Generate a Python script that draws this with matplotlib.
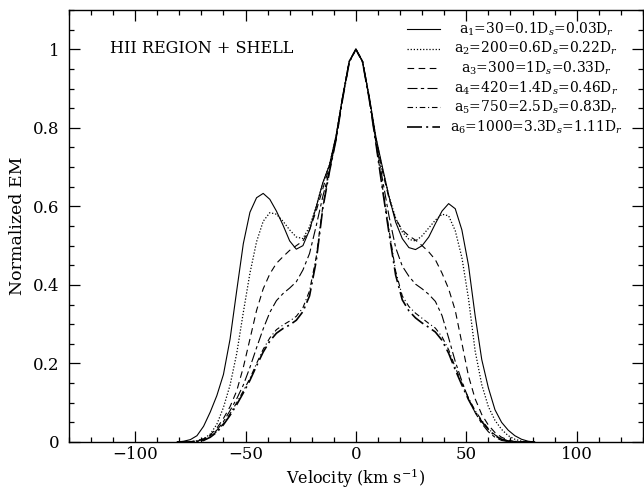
import matplotlib
matplotlib.use("Agg")
import matplotlib.pyplot as plt
from matplotlib.ticker import MultipleLocator

plt.rcParams.update({
    "font.family": "DejaVu Serif",
    "mathtext.fontset": "dejavuserif",
    "font.size": 12,
})

# velocity grid (km/s)
velocity = [-81, -78, -75, -72, -69, -66, -63, -60, -57, -54, -51, -48, -45, -42,
            -39, -36, -33, -30, -27, -24, -21, -18, -15, -12, -9, -6, -3, 0,
            3, 6, 9, 12, 15, 18, 21, 24, 27, 30, 33, 36, 39, 42,
            45, 48, 51, 54, 57, 60, 63, 66, 69, 72, 75, 78, 81]

em_a1 = [0.0, 0.002, 0.006, 0.016, 0.040, 0.076, 0.118, 0.172, 0.262, 0.385, 0.505, 0.585, 0.622, 0.633,
         0.618, 0.588, 0.552, 0.512, 0.491, 0.500, 0.540, 0.598, 0.660, 0.705, 0.780, 0.880, 0.970, 1.0,
         0.970, 0.880, 0.778, 0.700, 0.625, 0.560, 0.518, 0.495, 0.490, 0.500, 0.522, 0.556, 0.588, 0.607,
         0.594, 0.540, 0.450, 0.322, 0.210, 0.138, 0.082, 0.050, 0.030, 0.016, 0.007, 0.002, 0.0]

em_a2 = [0.0, 0.0, 0.001, 0.003, 0.008, 0.020, 0.045, 0.088, 0.145, 0.225, 0.330, 0.430, 0.510, 0.562,
         0.584, 0.580, 0.562, 0.540, 0.522, 0.518, 0.548, 0.600, 0.660, 0.705, 0.778, 0.880, 0.970, 1.0,
         0.970, 0.880, 0.775, 0.695, 0.625, 0.570, 0.535, 0.516, 0.512, 0.525, 0.545, 0.565, 0.580, 0.576,
         0.538, 0.470, 0.365, 0.232, 0.146, 0.090, 0.055, 0.032, 0.016, 0.007, 0.002, 0.0, 0.0]

em_a3 = [0.0, 0.0, 0.001, 0.003, 0.008, 0.018, 0.035, 0.060, 0.090, 0.130, 0.190, 0.262, 0.335, 0.390,
         0.428, 0.455, 0.472, 0.488, 0.500, 0.512, 0.540, 0.588, 0.645, 0.700, 0.776, 0.878, 0.968, 1.0,
         0.968, 0.878, 0.772, 0.690, 0.620, 0.568, 0.540, 0.525, 0.514, 0.500, 0.484, 0.464, 0.430, 0.390,
         0.335, 0.252, 0.168, 0.110, 0.070, 0.043, 0.024, 0.012, 0.005, 0.001, 0.0, 0.0, 0.0]

em_a4 = [0.0, 0.0, 0.0, 0.002, 0.007, 0.016, 0.030, 0.052, 0.080, 0.110, 0.145, 0.190, 0.240, 0.288,
         0.330, 0.360, 0.378, 0.392, 0.408, 0.438, 0.480, 0.550, 0.625, 0.690, 0.772, 0.876, 0.968, 1.0,
         0.968, 0.876, 0.768, 0.670, 0.575, 0.495, 0.448, 0.422, 0.402, 0.390, 0.376, 0.358, 0.322, 0.265,
         0.205, 0.155, 0.110, 0.075, 0.047, 0.026, 0.012, 0.004, 0.001, 0.0, 0.0, 0.0, 0.0]

em_a5 = [0.0, 0.0, 0.0, 0.001, 0.005, 0.013, 0.027, 0.047, 0.072, 0.100, 0.130, 0.162, 0.200, 0.236,
         0.265, 0.286, 0.298, 0.308, 0.320, 0.342, 0.385, 0.470, 0.600, 0.690, 0.770, 0.875, 0.968, 1.0,
         0.968, 0.875, 0.765, 0.650, 0.540, 0.435, 0.372, 0.345, 0.328, 0.315, 0.302, 0.290, 0.268, 0.235,
         0.190, 0.150, 0.112, 0.080, 0.055, 0.034, 0.018, 0.008, 0.003, 0.001, 0.0, 0.0, 0.0]

em_a6 = [0.0, 0.0, 0.0, 0.001, 0.004, 0.012, 0.025, 0.044, 0.068, 0.095, 0.125, 0.157, 0.194, 0.229,
         0.257, 0.277, 0.289, 0.298, 0.310, 0.332, 0.372, 0.460, 0.595, 0.688, 0.770, 0.875, 0.968, 1.0,
         0.968, 0.875, 0.763, 0.645, 0.532, 0.425, 0.362, 0.334, 0.316, 0.303, 0.292, 0.280, 0.259, 0.226,
         0.184, 0.145, 0.108, 0.077, 0.052, 0.032, 0.016, 0.007, 0.002, 0.001, 0.0, 0.0, 0.0]

labels = [r"a$_1$=30=0.1D$_s$=0.03D$_r$",
          r"a$_2$=200=0.6D$_s$=0.22D$_r$",
          r"a$_3$=300=1D$_s$=0.33D$_r$",
          r"a$_4$=420=1.4D$_s$=0.46D$_r$",
          r"a$_5$=750=2.5D$_s$=0.83D$_r$",
          r"a$_6$=1000=3.3D$_s$=1.11D$_r$"]

series = [em_a1, em_a2, em_a3, em_a4, em_a5, em_a6]
styles = [
    dict(linestyle="-", linewidth=0.8),
    dict(linestyle=(0, (1, 1.5)), linewidth=0.9),
    dict(linestyle=(0, (6, 4)), linewidth=0.8),
    dict(linestyle=(0, (9, 3, 3, 3)), linewidth=0.8),
    dict(linestyle=(0, (5, 2.5, 1, 2.5)), linewidth=0.8),
    dict(linestyle=(0, (9, 2.5, 1.2, 2.5)), linewidth=1.2),
]

fig = plt.figure(figsize=(6.44, 4.91), dpi=100)
ax = fig.add_axes([0.107, 0.0998, 0.8913, 0.8798])

for ys, st in zip(series, styles):
    ax.plot(velocity, ys, color="black", **st)

ax.set_xlim(-130, 130)
ax.set_ylim(0, 1.1)
ax.xaxis.set_major_locator(MultipleLocator(50))
ax.xaxis.set_minor_locator(MultipleLocator(10))
ax.yaxis.set_minor_locator(MultipleLocator(0.05))
ax.set_yticks([0, 0.2, 0.4, 0.6, 0.8, 1.0])
ax.set_yticklabels(["0", "0.2", "0.4", "0.6", "0.8", "1"])
ax.tick_params(which="both", direction="in", top=True, right=True, width=0.9)
ax.tick_params(which="major", length=8, pad=7)
ax.tick_params(axis="x", which="major", pad=3)
ax.tick_params(which="minor", length=3.8)
for sp in ax.spines.values():
    sp.set_linewidth(1.0)

ax.set_xlabel(r"Velocity (km s$^{-1}$)", fontsize=11.5)
ax.xaxis.set_label_coords(0.5, -0.083)
ax.xaxis.label.set_va("center")
ax.set_ylabel("Normalized EM", labelpad=5, fontsize=12.5)

ax.text(0.071, 0.91, "HII REGION + SHELL", transform=ax.transAxes,
        ha="left", va="center", fontsize=11.5)

# hand-made legend: short line sample + centered label
for i, (lab, st) in enumerate(zip(labels, styles)):
    yy = 0.956 - i * 0.0454
    ax.plot([0.589, 0.646], [yy, yy], transform=ax.transAxes, color="black", **st)
    ax.text(0.814, yy, lab, transform=ax.transAxes, ha="center", va="center", fontsize=10)

fig.savefig("out.png", dpi=100)
